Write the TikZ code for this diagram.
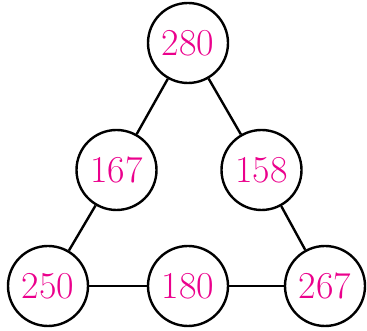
\documentclass[tikz,border=0pt]{standalone}
\usepackage{fontspec}
\definecolor{numpink}{RGB}{235,0,140}
\begin{document}
\begin{tikzpicture}[x=1pt,y=1pt,
  numnode/.style={circle,draw=black,line width=2.4pt,minimum size=80pt,inner sep=0pt,
    text=numpink,font=\fontsize{38}{38}\selectfont},
  link/.style={line width=2.4pt}]
\useasboundingbox (0,0) rectangle (367,331);
\node[numnode] (a) at (188,288) {280};
\node[numnode] (b) at (116.5,161) {167};
\node[numnode] (c) at (261.5,161) {158};
\node[numnode] (d) at (48,45) {250};
\node[numnode] (e) at (188,45) {180};
\node[numnode] (f) at (325,45) {267};
\draw[link] (a) -- (b);
\draw[link] (a) -- (c);
\draw[link] (b) -- (d);
\draw[link] (c) -- (f);
\draw[link] (d) -- (e);
\draw[link] (e) -- (f);
\end{tikzpicture}
\end{document}
